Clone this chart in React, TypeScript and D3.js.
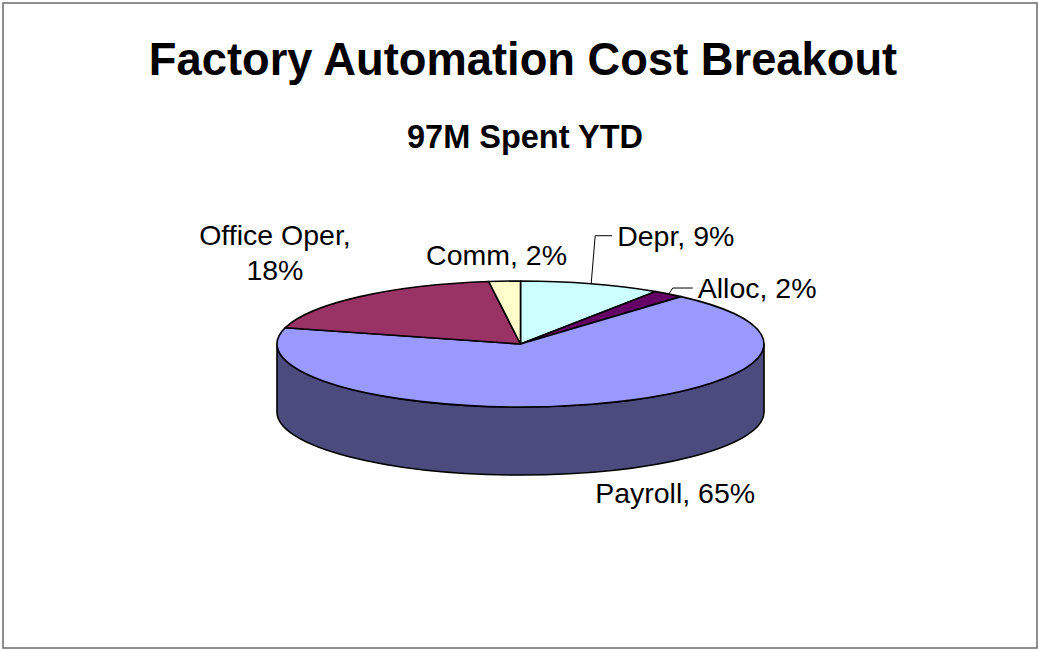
import React from "react";
import * as d3 from "d3";

const categories = ["Depr", "Alloc", "Payroll", "Office Oper", "Comm"];
const values = [9, 2, 65, 18, 2];
const percentLabels = ["9%", "2%", "65%", "18%", "2%"];
const topColors = ["#CCFFFF", "#660066", "#9999FF", "#993366", "#FFFFCC"];

const title = "Factory Automation Cost Breakout";
const subtitle = "97M Spent YTD";

const W = 1038;
const H = 649;
const cx = 520.5;
const cy = 344;
const rx = 243.5;
const ry = 63;
const depth = 68;

// label layout relative to the slice's mid-angle point on the rim
const labelLayout = [
  { dx: 26, dy: -38, anchor: "start", lines: 1, leader: true },
  { dx: 29, dy: 4, anchor: "start", lines: 1, leader: true },
  { dx: 84, dy: 99, anchor: "middle", lines: 1, leader: false },
  { dx: -85, dy: -52, anchor: "middle", lines: 2, leader: false },
  { dx: -8, dy: -16, anchor: "middle", lines: 1, leader: false },
];

const font = "'Liberation Sans', Arial, Helvetica, sans-serif";

function rim(a: number, yOff = 0): [number, number] {
  return [cx + rx * Math.sin(a), cy - ry * Math.cos(a) + yOff];
}

export default function App() {
  const pie = d3
    .pie<number>()
    .sort(null)
    .value((d) => d);
  const arcs = pie(values);
  const arcGen = d3.arc<d3.PieArcDatum<number>>().innerRadius(0).outerRadius(rx);

  // side walls (front half only: angles between PI/2 and 3PI/2)
  const sides = arcs
    .map((a, i) => {
      const s = Math.max(a.startAngle, Math.PI / 2);
      const e = Math.min(a.endAngle, (3 * Math.PI) / 2);
      if (e <= s) return null;
      const p0 = rim(s);
      const p1 = rim(e);
      const large = e - s > Math.PI ? 1 : 0;
      const d =
        `M${p0[0]},${p0[1]}` +
        `A${rx},${ry} 0 ${large} 1 ${p1[0]},${p1[1]}` +
        `L${p1[0]},${p1[1] + depth}` +
        `A${rx},${ry} 0 ${large} 0 ${p0[0]},${p0[1] + depth}Z`;
      const col = d3.color(topColors[i])!.darker(2).formatHex();
      return { d, col, key: i };
    })
    .filter(Boolean) as { d: string; col: string; key: number }[];

  const fs = 28.5;

  return (
    <svg
      width={W}
      height={H}
      style={{ position: "absolute", left: 0, top: 0, background: "#fff" }}
      fontFamily={font}
    >
      <rect x={0} y={0} width={W} height={H} fill="#fff" />
      <rect x={3} y={3} width={1034} height={645} fill="none" stroke="#6a6a6a" strokeWidth={1.5} />
      <text x={523} y={75} textAnchor="middle" fontSize={45.3} fontWeight="bold" fill="#000">
        {title}
      </text>
      <text x={525} y={148} textAnchor="middle" fontSize={32.5} fontWeight="bold" fill="#000">
        {subtitle}
      </text>

      {sides.map((s) => (
        <path key={"s" + s.key} d={s.d} fill={s.col} stroke="#000" strokeWidth={1.6} strokeLinejoin="round" />
      ))}
      <g transform={`translate(${cx},${cy}) scale(1,${ry / rx})`}>
        {arcs.map((a, i) => (
          <path
            key={"t" + i}
            d={arcGen(a) || ""}
            fill={topColors[i]}
            stroke="#000"
            strokeWidth={1.6}
            strokeLinejoin="round"
            vectorEffect="non-scaling-stroke"
          />
        ))}
      </g>

      {arcs.map((a, i) => {
        const mid = (a.startAngle + a.endAngle) / 2;
        const L = labelLayout[i];
        const [ax, ay] = rim(mid);
        const tx = ax + L.dx;
        const ty = ay + L.dy;
        const full = `${categories[i]}, ${percentLabels[i]}`;
        let leader = null;
        if (L.leader) {
          const my = ty - 10;
          leader = (
            <path
              d={`M${ax},${ay}L${ax + 4},${my}L${tx - 5},${my}`}
              fill="none"
              stroke="#000"
              strokeWidth={1}
            />
          );
        }
        return (
          <g key={"l" + i}>
            {leader}
            {L.lines === 2 ? (
              <text x={tx} y={ty} textAnchor={L.anchor as any} fontSize={fs} fill="#000">
                <tspan x={tx} dy={0}>{`${categories[i]},`}</tspan>
                <tspan x={tx} dy={35}>{percentLabels[i]}</tspan>
              </text>
            ) : (
              <text x={tx} y={ty} textAnchor={L.anchor as any} fontSize={fs} fill="#000">
                {full}
              </text>
            )}
          </g>
        );
      })}
    </svg>
  );
}
